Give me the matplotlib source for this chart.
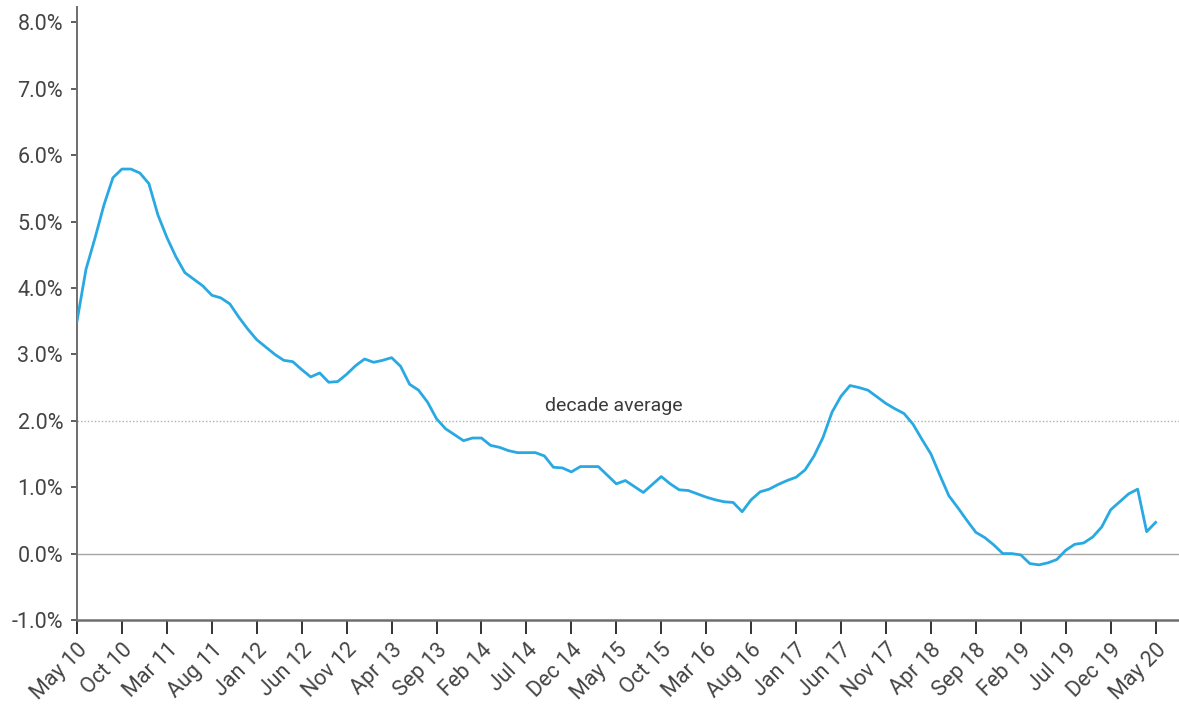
import matplotlib
matplotlib.use("Agg")
import matplotlib.pyplot as plt
import numpy as np

plt.rcParams['font.family'] = ['Roboto', 'DejaVu Sans']

# monthly values from May 2010 to May 2020 (%)
values = [
    3.50, 4.28, 4.75, 5.25, 5.66, 5.79, 5.79, 5.73, 5.57, 5.10,
    4.76, 4.47, 4.23, 4.13, 4.03, 3.89, 3.85, 3.76, 3.56, 3.38,
    3.22, 3.11, 3.00, 2.91, 2.89, 2.77, 2.66, 2.72, 2.58, 2.59,
    2.70, 2.83, 2.93, 2.88, 2.91, 2.95, 2.82, 2.55, 2.46, 2.28,
    2.03, 1.88, 1.79, 1.70, 1.74, 1.74, 1.63, 1.60, 1.55, 1.52,
    1.52, 1.52, 1.47, 1.30, 1.29, 1.23, 1.31, 1.31, 1.31, 1.18,
    1.05, 1.10, 1.01, 0.92, 1.04, 1.16, 1.05, 0.96, 0.95, 0.90,
    0.85, 0.81, 0.78, 0.77, 0.63, 0.81, 0.93, 0.97, 1.04, 1.10,
    1.15, 1.26, 1.47, 1.75, 2.13, 2.37, 2.53, 2.50, 2.46, 2.36,
    2.26, 2.18, 2.11, 1.95, 1.72, 1.50, 1.18, 0.87, 0.69, 0.50,
    0.32, 0.24, 0.13, 0.00, 0.00, -0.02, -0.15, -0.17, -0.14, -0.09,
    0.05, 0.14, 0.16, 0.25, 0.40, 0.66, 0.78, 0.90, 0.97, 0.33,
    0.47,
]
tick_labels = ["May 10", "Oct 10", "Mar 11", "Aug 11", "Jan 12", "Jun 12", "Nov 12",
               "Apr 13", "Sep 13", "Feb 14", "Jul 14", "Dec 14", "May 15", "Oct 15",
               "Mar 16", "Aug 16", "Jan 17", "Jun 17", "Nov 17", "Apr 18", "Sep 18",
               "Feb 19", "Jul 19", "Dec 19", "May 20"]
tick_step = 5
decade_average = 2.0
y_ticks = [-1.0, 0.0, 1.0, 2.0, 3.0, 4.0, 5.0, 6.0, 7.0, 8.0]

x = np.arange(len(values))

fig = plt.figure(figsize=(11.79, 7.08), dpi=100)
ax = fig.add_axes([77/1179, 1-620/708, 1-77/1179, (620-7)/708])

ax.axhline(0, color='#a6a6a6', lw=1.0, zorder=1)
ax.axhline(decade_average, color='#b0b0b0', lw=1.0, ls=(0, (1, 1.5)), zorder=1)
ax.text(59.7, decade_average + 0.08, "decade average", ha='center', va='bottom',
        fontsize=14, color='#3a3a3a')

ax.plot(x, values, color='#29a9e1', lw=2.0, zorder=3, solid_joinstyle='round')

ax.set_xlim(0, 122.6)
ax.set_ylim(-1.0, 8.23)
ax.set_yticks(y_ticks)
ax.set_yticklabels([f"{v:.1f}%" for v in y_ticks])
ax.set_xticks(np.arange(len(tick_labels)) * tick_step)
ax.set_xticklabels(tick_labels, rotation=45, ha='right', rotation_mode='anchor')

for s in ['top', 'right']:
    ax.spines[s].set_visible(False)
ax.spines['left'].set_color('#6e6e6e')
ax.spines['left'].set_linewidth(1.4)
ax.spines['bottom'].set_color('#6e6e6e')
ax.spines['bottom'].set_linewidth(1.8)

ax.tick_params(axis='y', length=4, width=1.2, color='#444444', labelsize=15.5,
               labelcolor='#444444', pad=6)
ax.tick_params(axis='x', length=10, width=1.4, color='#333333', labelsize=15.5,
               labelcolor='#444444', pad=4)

fig.savefig("out.png", dpi=100)
